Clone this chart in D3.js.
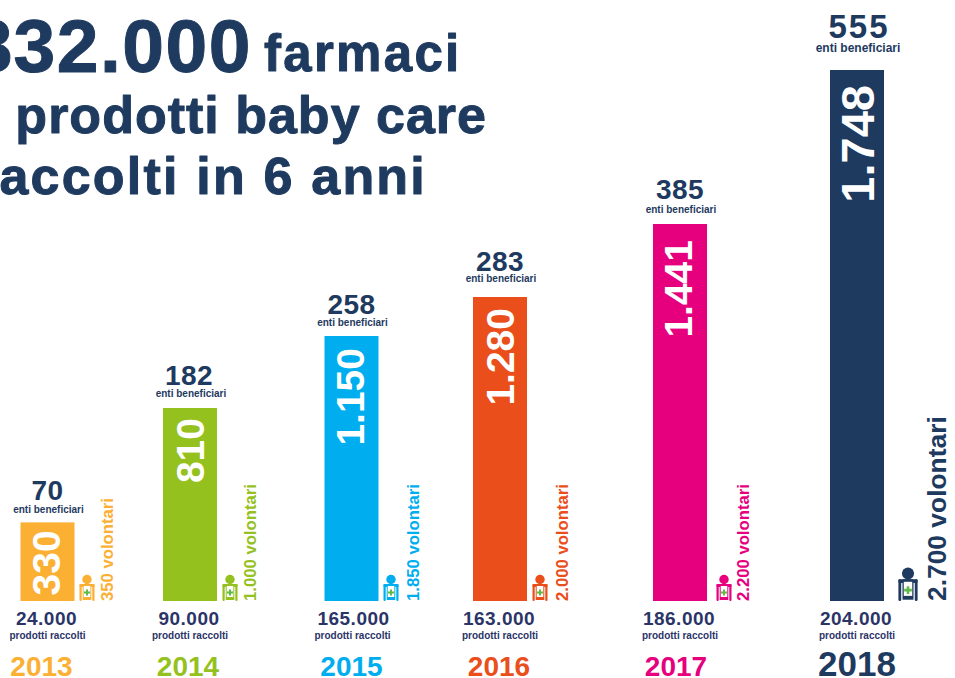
<!DOCTYPE html>
<html>
<head>
<meta charset="utf-8">
<script src="https://cdn.jsdelivr.net/npm/d3@7"></script>
<style>
  html, body { margin: 0; padding: 0; background: #fff; overflow: hidden; }
  text { font-family: "Liberation Sans", Arial, sans-serif; font-weight: bold; }
</style>
</head>
<body>
<div id="chart"></div>
<script>
// values
const years = [2013, 2014, 2015, 2016, 2017, 2018];
const farmaci = [330, 810, 1150, 1280, 1441, 1748];
const enti = [70, 182, 258, 283, 385, 555];
const prodotti = ["24.000", "90.000", "165.000", "163.000", "186.000", "204.000"];
const volontari = ["350", "1.000", "1.850", "2.000", "2.200", "2.700"];
const colors = ["#fbb034", "#95c11f", "#00aeef", "#e94e1b", "#e6007e", "#1e3a5f"];
const titleLines = ["832.000", "e prodotti baby care", "raccolti in 6 anni"];

const navy = "#1e3a5f", navy2 = "#2b3467";
const width = 955, height = 678;
const barWidth = 54;

// hand placed nudges per year, the original labels do not line up
const numDx = [12, 14, 12, 14, 12, 17];
const numDy = [8, 10, 12, 11, 16, 15];
const entiDy = [22, 23, 22, 26, 25, 32];
const labelDy = [9, 11, 10, 15, 11, 18];
const volDx = [65.5, 66, 67.5, 68, 69, 89];
const iconDx = [39.5, 40, 39.5, 40, 44, 51];
const prodDx = [-1, -1, 2, -1, -1, -1];
const yearDx = [-6, -2, 0, -1, -4, 0];

const svg = d3.select("#chart").append("svg")
    .attr("width", width)
    .attr("height", height);

// the infographic is not evenly spaced and not to scale, so both scales are piecewise
const x = d3.scaleLinear()
    .domain(years)
    .range([47.5, 190, 351.5, 500, 680, 857]);
const y = d3.scaleLinear()
    .domain([0, 810, 1150, 1280, 1441, 1748])
    .range([601, 408, 336, 297, 224, 70]);

// title, cut by the left edge like the original
const title = svg.append("g").attr("fill", navy).attr("stroke", navy)
    .attr("stroke-width", 1).attr("stroke-linejoin", "round");
title.append("text").attr("x", 252).attr("y", 72).attr("text-anchor", "end")
    .attr("font-size", 75).attr("letter-spacing", 1.5).text(titleLines[0]);
title.append("text").attr("x", 264).attr("y", 71)
    .attr("font-size", 51).attr("letter-spacing", 2.3).text("farmaci");
title.append("text").attr("x", 487).attr("y", 133).attr("text-anchor", "end")
    .attr("font-size", 52).attr("letter-spacing", 1).text(titleLines[1]);
title.append("text").attr("x", 427).attr("y", 194).attr("text-anchor", "end")
    .attr("font-size", 52).attr("letter-spacing", 2.2).text(titleLines[2]);

const data = years.map((year, i) => ({
    year, i, farmaci: farmaci[i], enti: enti[i], prodotti: prodotti[i], volontari: volontari[i], color: colors[i]
}));

const bar = svg.selectAll(".year").data(data).join("g")
    .attr("class", "year");

bar.append("rect")
    .attr("x", d => x(d.year) - barWidth / 2)
    .attr("y", d => y(d.farmaci))
    .attr("width", barWidth)
    .attr("height", d => y(0) - y(d.farmaci))
    .attr("fill", d => d.color);

// number inside the bar
bar.append("text")
    .attr("transform", d => `translate(${x(d.year) + numDx[d.i]},${y(d.farmaci) + numDy[d.i]}) rotate(-90)`)
    .attr("text-anchor", "end")
    .attr("fill", "#fff")
    .attr("font-size", d => d.i === 5 ? 47 : 39)
    .text(d => d3.format(",")(d.farmaci).replace(",", "."));

bar.append("text")
    .attr("x", d => x(d.year) + (d.i === 5 ? 2 : d.i === 1 ? -1 : 0))
    .attr("y", d => y(d.farmaci) - entiDy[d.i])
    .attr("text-anchor", "middle")
    .attr("fill", navy)
    .attr("font-size", d => d.i === 5 ? 33 : 28)
    .attr("letter-spacing", d => d.i === 5 ? 2 : 0.5)
    .text(d => d.enti);

bar.append("text")
    .attr("x", d => x(d.year) + 1)
    .attr("y", d => y(d.farmaci) - labelDy[d.i])
    .attr("text-anchor", "middle")
    .attr("fill", navy)
    .attr("font-size", d => d.i === 5 ? 12 : 10)
    .text("enti beneficiari");

bar.append("text")
    .attr("x", d => x(d.year) + prodDx[d.i])
    .attr("y", 625)
    .attr("text-anchor", "middle")
    .attr("fill", navy2)
    .attr("font-size", 19)
    .attr("letter-spacing", 0.5)
    .text(d => d.prodotti);

bar.append("text")
    .attr("x", d => x(d.year) + (d.i === 2 ? 1 : 0))
    .attr("y", 639)
    .attr("text-anchor", "middle")
    .attr("fill", navy2)
    .attr("font-size", 10)
    .text("prodotti raccolti");

bar.append("text")
    .attr("x", d => x(d.year) + yearDx[d.i])
    .attr("y", 676)
    .attr("text-anchor", "middle")
    .attr("fill", d => d.color)
    .attr("font-size", d => d.i === 5 ? 35 : 28)
    .text(d => d.year);

bar.append("text")
    .attr("transform", d => `translate(${x(d.year) + volDx[d.i]},601) rotate(-90)`)
    .attr("fill", d => d.color)
    .attr("font-size", d => d.i === 5 ? 26.4 : 16.7)
    .text(d => d.volontari + " volontari");

// little volunteer figure next to each bar
const icon = bar.append("g")
    .attr("transform", d => `translate(${x(d.year) + iconDx[d.i]},601) scale(${d.i === 5 ? 1.28 : 1})`);
icon.append("circle").attr("cy", -21.5).attr("r", 4.7).attr("fill", d => d.color);
icon.append("rect").attr("x", -7.5).attr("y", -17).attr("width", 15).attr("height", 3).attr("rx", 1).attr("fill", d => d.color);
icon.append("rect").attr("x", -7.5).attr("y", -17).attr("width", 2.2).attr("height", 17).attr("rx", 1).attr("fill", d => d.color);
icon.append("rect").attr("x", 5.3).attr("y", -17).attr("width", 2.2).attr("height", 17).attr("rx", 1).attr("fill", d => d.color);
icon.append("rect").attr("x", -4.3).attr("y", -17).attr("width", 8.6).attr("height", 16).attr("fill", d => d.color);
icon.append("rect").attr("x", -3.3).attr("y", -15).attr("width", 6.6).attr("height", 11).attr("fill", "#fff");
icon.append("path").attr("d", "M-1-11.5h2v2h2v2h-2v2h-2v-2h-2v-2h2z").attr("fill", "#5dbb46");
</script>
</body>
</html>
